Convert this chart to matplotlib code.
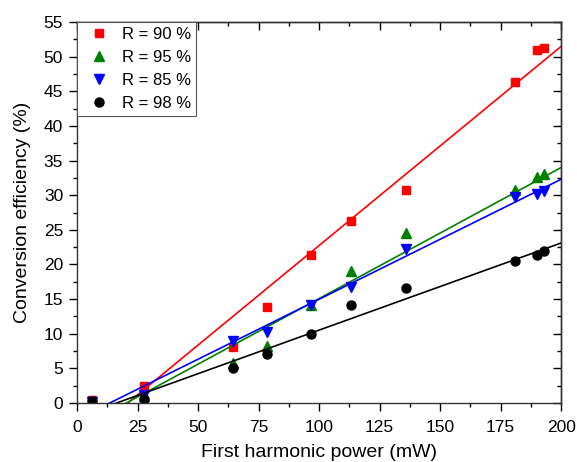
import numpy as np
import matplotlib.pyplot as plt
from matplotlib.ticker import MultipleLocator

plt.rcParams['font.family'] = ['Liberation Sans', 'DejaVu Sans']
plt.rcParams['font.size'] = 12.5

# Data
power = [6, 27.5, 64.5, 78.5, 96.5, 113, 136, 181, 190, 193]
eff_90 = [0.4, 2.5, 8.0, 13.9, 21.4, 26.3, 30.8, 46.4, 51.0, 51.3]
eff_95 = [0.1, 1.0, 5.7, 8.2, 14.1, 19.0, 24.5, 30.7, 32.6, 33.1]
eff_85 = [0.1, 1.2, 9.0, 10.3, 14.2, 16.8, 22.2, 29.8, 30.2, 30.6]
eff_98 = [0.2, 0.5, 5.0, 7.0, 9.9, 14.1, 16.6, 20.5, 21.4, 21.9]

# linear fits shown in the reference: (slope, intercept)
fit_90 = (0.2877, -6.04)
fit_95 = (0.1894, -3.88)
fit_85 = (0.1733, -2.36)
fit_98 = (0.1259, -2.08)

series = [
    ('R = 90 %', eff_90, fit_90, 's', '#FF0000', 5.5),
    ('R = 95 %', eff_95, fit_95, '^', '#008000', 6.5),
    ('R = 85 %', eff_85, fit_85, 'v', '#0000FF', 6.5),
    ('R = 98 %', eff_98, fit_98, 'o', '#000000', 6.5),
]

fig = plt.figure(figsize=(5.77, 4.62), dpi=100)
ax = fig.add_axes([0.1335, 0.128, 0.839, 0.824])

xfit = np.array([0, 200])
for label, y, (k, b), marker, color, ms in series:
    ax.plot(xfit, k * xfit + b, '-', color=color, lw=1.2)
    ax.plot(power, y, marker, color=color, ms=ms, ls='none', label=label)

ax.set_xlim(0, 200)
ax.set_ylim(0, 55)

ax.xaxis.set_major_locator(MultipleLocator(25))
ax.xaxis.set_minor_locator(MultipleLocator(12.5))
ax.yaxis.set_major_locator(MultipleLocator(5))
ax.yaxis.set_minor_locator(MultipleLocator(2.5))
ax.tick_params(which='both', direction='out', top=False, right=False, width=1)
ax.tick_params(which='major', length=6, pad=4)
ax.tick_params(axis='x', which='major', pad=6)
ax.tick_params(which='minor', length=3)

# mirrored inward ticks on top and right
ax_top = ax.secondary_xaxis('top')
ax_top.xaxis.set_major_locator(MultipleLocator(25))
ax_top.xaxis.set_minor_locator(MultipleLocator(12.5))
ax_top.tick_params(which='both', direction='in', labeltop=False, width=1)
ax_top.tick_params(which='major', length=6)
ax_top.tick_params(which='minor', length=3)
ax_right = ax.secondary_yaxis('right')
ax_right.yaxis.set_major_locator(MultipleLocator(5))
ax_right.yaxis.set_minor_locator(MultipleLocator(2.5))
ax_right.tick_params(which='both', direction='in', labelright=False, width=1)
ax_right.tick_params(which='major', length=6)
ax_right.tick_params(which='minor', length=3)

for a in (ax, ax_top, ax_right):
    for sp in a.spines.values():
        sp.set_linewidth(1)
        sp.set_color('#333333')

ax.set_xlabel('First harmonic power (mW)', fontsize=14, labelpad=7)
ax.set_ylabel('Conversion efficiency (%)', fontsize=14, labelpad=9)

leg = ax.legend(loc='upper left', fancybox=False, framealpha=1, edgecolor='#555555',
                borderaxespad=0, handletextpad=0.4, labelspacing=0.48, borderpad=0.3,
                handlelength=2.0, fontsize=12)
leg.get_frame().set_linewidth(0.8)

fig.savefig('out.png', dpi=100)
